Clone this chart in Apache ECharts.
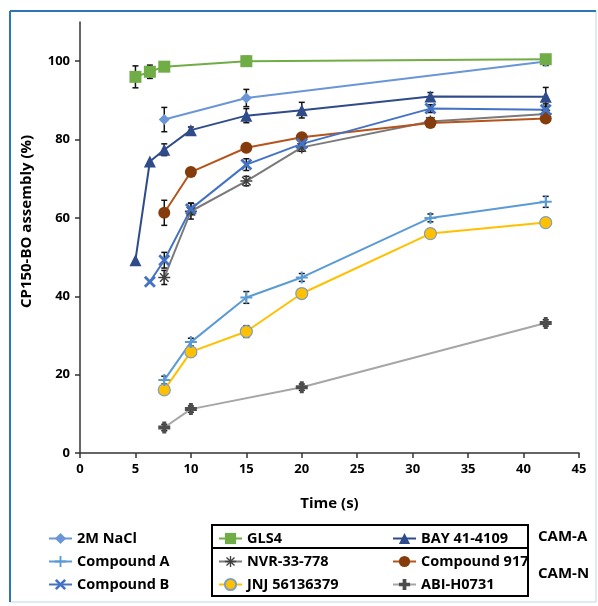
<!DOCTYPE html>
<html>
<head>
<meta charset="utf-8">
<script src="https://cdn.jsdelivr.net/npm/echarts@6/dist/echarts.min.js"></script>
<style>
  html, body { margin: 0; padding: 0; background: #fff; }
  #chart { width: 598px; height: 606px; }
</style>
</head>
<body>
<div id="chart"></div>
<script>
// 数据
const xTicks = [0, 5, 10, 15, 20, 25, 30, 35, 40, 45]
const yTicks = [0, 20, 40, 60, 80, 100]

const naclTime = [7.6, 15, 42]
const naclValue = [85.1, 90.6, 99.9]
const naclErr = [3.1, 2.2, 1.0]

const compATime = [7.6, 10, 15, 20, 31.6, 42]
const compAValue = [18.6, 28.3, 39.7, 44.8, 60.0, 64.1]
const compAErr = [1.0, 1.0, 1.5, 1.0, 1.0, 1.4]

const compBTime = [6.3, 7.6, 10, 15, 20, 31.6, 42]
const compBValue = [43.7, 49.2, 62.3, 73.6, 78.9, 87.9, 87.6]
const compBErr = [0, 2.0, 1.5, 1.5, 1.0, 1.0, 1.5]

const gls4Time = [5, 6.3, 7.6, 15, 42]
const gls4Value = [96.0, 97.3, 98.6, 100.0, 100.5]
const gls4Err = [2.8, 1.7, 0.5, 1.2, 0.8]

const bayTime = [5, 6.3, 7.6, 10, 15, 20, 31.6, 42]
const bayValue = [49.2, 74.4, 77.4, 82.4, 86.1, 87.5, 91.0, 90.9]
const bayErr = [0, 0, 1.5, 0.8, 1.8, 2.0, 1.0, 2.4]

const nvrTime = [7.6, 10, 15, 20, 31.6, 42]
const nvrValue = [44.8, 61.7, 69.4, 78.0, 84.6, 86.5]
const nvrErr = [1.8, 2.0, 1.2, 1.0, 1.0, 1.2]

const c917Time = [7.6, 10, 15, 20, 31.6, 42]
const c917Value = [61.3, 71.7, 77.9, 80.6, 84.2, 85.4]
const c917Err = [3.2, 0.5, 0.5, 0.5, 1.0, 0.8]

const jnjTime = [7.6, 10, 15, 20, 31.6, 42]
const jnjValue = [16.1, 25.8, 31.0, 40.7, 56.0, 58.8]
const jnjErr = [0.5, 0.5, 1.5, 0.5, 0.5, 0.5]

const abiTime = [7.6, 10, 20, 42]
const abiValue = [6.5, 11.2, 16.8, 33.2]
const abiErr = [0.8, 0.8, 0.8, 0.8]

const FONT = '"Open Sans"'

// 符号路径
const PLUS_THIN = 'path://M5,0h2v5h5v2h-5v5h-2v-5h-5v-2h5z'
const PLUS_THICK = 'path://M4,0h4v4h4v4h-4v4h-4v-4h-4v-4h4z'
const CROSS = 'path://M0,2L2,0L6,4L10,0L12,2L8,6L12,10L10,12L6,8L2,12L0,10L4,6Z'
const STAR = 'path://M5.2,0h1.6v4.6l3.3,-3.3l1.1,1.1l-3.3,3.3h4.6v1.6h-4.6l3.3,3.3l-1.1,1.1l-3.3,-3.3v4.6h-1.6v-4.6l-3.3,3.3l-1.1,-1.1l3.3,-3.3h-4.6v-1.6h4.6l-3.3,-3.3l1.1,-1.1l3.3,3.3z'

function pairs(t, v) {
  return t.map((x, i) => [x, v[i]])
}

function lineSeries(name, t, v, opts) {
  return {
    name: name,
    type: 'line',
    data: pairs(t, v),
    symbol: opts.symbol,
    symbolSize: opts.size,
    lineStyle: { width: 2, color: opts.line },
    itemStyle: {
      color: opts.marker,
      borderColor: opts.border || opts.marker,
      borderWidth: opts.border ? 1.2 : 0
    },
    z: 2
  }
}

// 误差线数据
const errData = []
;[
  [naclTime, naclValue, naclErr],
  [compATime, compAValue, compAErr],
  [compBTime, compBValue, compBErr],
  [gls4Time, gls4Value, gls4Err],
  [bayTime, bayValue, bayErr],
  [nvrTime, nvrValue, nvrErr],
  [c917Time, c917Value, c917Err],
  [jnjTime, jnjValue, jnjErr],
  [abiTime, abiValue, abiErr]
].forEach(([t, v, e]) => {
  t.forEach((x, i) => {
    if (e[i] > 0) errData.push([x, v[i], e[i]])
  })
})

const chart = echarts.init(document.getElementById('chart'), null, { renderer: 'canvas' })

const legendText = { color: '#000', fontSize: 14.5, fontWeight: 'bold', fontFamily: FONT }
const legendBase = { top: 526, orient: 'vertical', itemWidth: 23, itemHeight: 14, itemGap: 8, textStyle: legendText }

const option = {
  backgroundColor: '#fff',
  animation: false,
  grid: { left: 80, right: 19, top: 22, bottom: 153 },
  xAxis: {
    type: 'value',
    min: 0,
    max: 45,
    interval: 5,
    name: 'Time (s)',
    nameLocation: 'middle',
    nameGap: 43,
    nameTextStyle: { color: '#000', fontSize: 15, fontWeight: 'bold', fontFamily: FONT },
    axisLine: { lineStyle: { color: '#333', width: 1.5 } },
    axisTick: { length: 5, lineStyle: { color: '#333', width: 1.5 } },
    axisLabel: {
      color: '#000', fontSize: 13, fontWeight: 'bold', fontFamily: FONT, margin: 10,
      formatter: v => xTicks.includes(v) ? String(v) : ''
    },
    splitLine: { show: false }
  },
  yAxis: {
    type: 'value',
    min: 0,
    max: 110,
    interval: 20,
    axisLine: { show: true, lineStyle: { color: '#333', width: 1.5 } },
    axisTick: { show: true, length: 5, customValues: yTicks, lineStyle: { color: '#333', width: 1.5 } },
    axisLabel: {
      color: '#000', fontSize: 13, fontWeight: 'bold', fontFamily: FONT, margin: 10,
      customValues: yTicks
    },
    splitLine: { show: false }
  },
  legend: [
    Object.assign({ left: 43, data: ['2M NaCl', 'Compound A', 'Compound B'] }, legendBase),
    Object.assign({ left: 213, data: ['GLS4', 'NVR-33-778', 'JNJ 56136379'] }, legendBase),
    Object.assign({ left: 387, data: ['BAY 41-4109', 'Compound 917', 'ABI-H0731'] }, legendBase)
  ],
  graphic: [
    // 外框
    { type: 'rect', shape: { x: 10, y: 11, width: 586, height: 591 }, style: { fill: 'none', stroke: '#bdd7ee', lineWidth: 1 }, silent: true },
    { type: 'line', shape: { x1: 10, y1: 11, x2: 596, y2: 11 }, style: { stroke: '#2e75b6', lineWidth: 2 }, silent: true },
    { type: 'line', shape: { x1: 10, y1: 11, x2: 10, y2: 602 }, style: { stroke: '#2e75b6', lineWidth: 2 }, silent: true },
    // y 轴标题
    {
      type: 'text', x: 26.5, y: 221.5, rotation: Math.PI / 2,
      style: { text: 'CP150-BO assembly (%)', fill: '#000', font: 'bold 15px ' + FONT, align: 'center', verticalAlign: 'middle' }
    },
    // 图例框
    { type: 'rect', shape: { x: 212, y: 525, width: 316, height: 71 }, style: { fill: 'none', stroke: '#000', lineWidth: 2 }, silent: true },
    { type: 'line', shape: { x1: 212, y1: 548, x2: 528, y2: 548 }, style: { stroke: '#000', lineWidth: 2 }, silent: true },
    { type: 'text', x: 538, y: 537, style: { text: 'CAM-A', fill: '#000', font: 'bold 15px ' + FONT, verticalAlign: 'middle' } },
    { type: 'text', x: 538, y: 574, style: { text: 'CAM-N', fill: '#000', font: 'bold 15px ' + FONT, verticalAlign: 'middle' } }
  ],
  series: [
    lineSeries('ABI-H0731', abiTime, abiValue, { symbol: PLUS_THICK, size: 12, line: '#a6a6a6', marker: '#4d4d4d' }),
    lineSeries('JNJ 56136379', jnjTime, jnjValue, { symbol: 'circle', size: 12, line: '#ffc000', marker: '#ffc000', border: '#7f9fbf' }),
    lineSeries('Compound A', compATime, compAValue, { symbol: PLUS_THIN, size: 12, line: '#5b9bd5', marker: '#5b9bd5' }),
    lineSeries('NVR-33-778', nvrTime, nvrValue, { symbol: STAR, size: 12, line: '#7a7a7a', marker: '#404040' }),
    lineSeries('Compound 917', c917Time, c917Value, { symbol: 'circle', size: 12, line: '#b5541c', marker: '#843c0c' }),
    lineSeries('Compound B', compBTime, compBValue, { symbol: CROSS, size: 12, line: '#4472c4', marker: '#4472c4' }),
    lineSeries('BAY 41-4109', bayTime, bayValue, { symbol: 'triangle', size: 12, line: '#2f4b8a', marker: '#2f4b8a' }),
    lineSeries('2M NaCl', naclTime, naclValue, { symbol: 'diamond', size: 11, line: '#6a96d8', marker: '#6a96d8' }),
    lineSeries('GLS4', gls4Time, gls4Value, { symbol: 'rect', size: 12, line: '#70ad47', marker: '#70ad47' }),
    {
      type: 'custom',
      z: 1,
      data: errData,
      encode: { x: 0, y: 1 },
      renderItem: (params, api) => {
        const x = api.value(0)
        const y = api.value(1)
        const e = api.value(2)
        const top = api.coord([x, y + e])
        const bot = api.coord([x, y - e])
        const w = 3
        const style = { stroke: '#111', lineWidth: 1.5 }
        return {
          type: 'group',
          children: [
            { type: 'line', shape: { x1: top[0], y1: top[1], x2: bot[0], y2: bot[1] }, style: style },
            { type: 'line', shape: { x1: top[0] - w, y1: top[1], x2: top[0] + w, y2: top[1] }, style: style },
            { type: 'line', shape: { x1: bot[0] - w, y1: bot[1], x2: bot[0] + w, y2: bot[1] }, style: style }
          ]
        }
      }
    }
  ]
}

chart.setOption(option)
</script>
</body>
</html>
